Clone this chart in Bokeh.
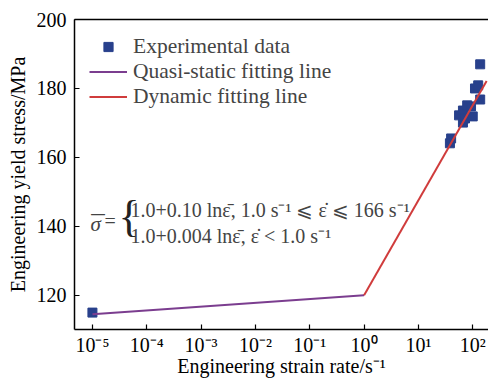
from bokeh.plotting import figure
from bokeh.models import (FixedTicker, CustomJSTickFormatter, Legend, LegendItem,
                          LinearAxis, Label, Range1d)
from bokeh.embed import file_html
from bokeh.resources import INLINE

# ---- data ----
exp_rate = [1e-5, 38, 40, 56, 66, 66, 72, 79, 93, 100, 110, 126, 137, 137]
exp_stress = [115.0, 164.1, 165.5, 172.2, 173.6, 170.1, 171.3, 175.1, 174.8,
              171.9, 180.0, 180.9, 176.8, 187.0]
quasi_rate = [1e-5, 1.0]
quasi_stress = [114.5, 120.0]
dyn_rate = [1.0, 180.0]
dyn_stress = [120.0, 182.2]
x_ticks = [1e-5, 1e-4, 1e-3, 1e-2, 1e-1, 1e0, 1e1, 1e2]
x_tick_labels = ["10\u207b\u2075", "10\u207b\u2074", "10\u207b\u00b3", "10\u207b\u00b2",
                 "10\u207b\u00b9", "10\u2070", "10\u00b9", "10\u00b2"]
y_ticks = [120, 140, 160, 180, 200]
x_title = "Engineering strain rate/s\u207b\u00b9"
y_title = "Engineering yield stress/MPa"

FONT = "Liberation Serif"

p = figure(width=488, height=380, x_axis_type="log", output_backend="svg",
           toolbar_location=None, x_range=Range1d(10 ** -5.33, 10 ** 2.29),
           y_range=Range1d(110.1, 200),
           min_border_left=74, min_border_right=0, min_border_top=19,
           min_border_bottom=51)
p.outline_line_color = None
p.xgrid.visible = False
p.ygrid.visible = False
p.background_fill_color = "white"
p.border_fill_color = "white"

for ax in (p.xaxis[0], p.yaxis[0]):
    ax.axis_line_width = 1.5
    ax.axis_line_color = "black"
    ax.major_tick_in = 5
    ax.major_tick_out = 0
    ax.major_tick_line_width = 1.2
    ax.minor_tick_line_color = None
    ax.major_label_text_font = FONT
    ax.major_label_text_font_size = "20px"
    ax.major_label_text_color = "black"
    ax.axis_label_text_font = FONT
    ax.axis_label_text_font_size = "20px"
    ax.axis_label_text_font_style = "normal"
    ax.axis_label_text_color = "black"

p.xaxis[0].ticker = FixedTicker(ticks=x_ticks)
p.xaxis[0].formatter = CustomJSTickFormatter(
    args=dict(tv=x_ticks, tl=x_tick_labels),
    code="""
const i = tv.findIndex(t => Math.abs(Math.log10(t) - Math.log10(tick)) < 1e-6);
return i >= 0 ? tl[i] : '';
""")
p.xaxis[0].major_label_standoff = 4
p.xaxis[0].axis_label = x_title
p.xaxis[0].axis_label_standoff = -4

p.yaxis[0].ticker = FixedTicker(ticks=y_ticks)
p.yaxis[0].major_label_standoff = 8
p.yaxis[0].axis_label = y_title
p.yaxis[0].axis_label_standoff = 5

# top frame line
top = LinearAxis(ticker=FixedTicker(ticks=[]), major_tick_line_color=None,
                 minor_tick_line_color=None, axis_line_width=1.5,
                 major_label_standoff=0)
p.add_layout(top, "above")

r_exp = p.scatter(exp_rate, exp_stress, marker="square", size=9,
                  fill_color="#28408c", line_color="#28408c")
r_q = p.line(quasi_rate, quasi_stress, line_color="#7b3d8f", line_width=2)
r_d = p.line(dyn_rate, dyn_stress, line_color="#d03c3c", line_width=2)

legend = Legend(items=[
    LegendItem(label="Experimental data", renderers=[r_exp]),
    LegendItem(label="Quasi-static fitting line", renderers=[r_q]),
    LegendItem(label="Dynamic fitting line", renderers=[r_d]),
], location="top_left", margin=15, padding=8, spacing=0,
    glyph_width=38, glyph_height=23, label_height=23, label_standoff=6,
    label_text_font=FONT, label_text_font_size="21.5px",
    border_line_color=None, background_fill_alpha=0)
p.add_layout(legend, "center")

# equation annotation
p.add_layout(Label(x=10 ** -5.037, y=140.6, text="\u03c3", text_font=FONT,
                   text_font_size="21px", text_font_style="italic",
                   text_baseline="alphabetic"))
p.add_layout(Label(x=10 ** -5.02, y=140.2, text="\u00af", text_font=FONT,
                   text_font_size="27px", text_baseline="alphabetic"))
p.add_layout(Label(x=10 ** -4.78, y=141.5, text="=", text_font=FONT,
                   text_font_size="20px", text_baseline="alphabetic"))
p.add_layout(Label(x=10 ** -4.52, y=142.8, text="{", text_font=FONT,
                   text_font_size="44px", text_baseline="middle",
                   text_color="#222222"))
p.add_layout(Label(x=10 ** -4.30, y=144.7,
                   text="1.0+0.10 ln\u03b5\u0304, 1.0 s\u207b\u00b9 \u2a7d \u03b5\u0307 \u2a7d 166 s\u207b\u00b9",
                   text_font=FONT, text_font_size="20px", text_baseline="alphabetic"))
p.add_layout(Label(x=10 ** -4.30, y=137.2,
                   text="1.0+0.004 ln\u03b5\u0304, \u03b5\u0307 < 1.0 s\u207b\u00b9",
                   text_font=FONT, text_font_size="20px", text_baseline="alphabetic"))

open("out.html", "w").write(file_html(p, INLINE))
